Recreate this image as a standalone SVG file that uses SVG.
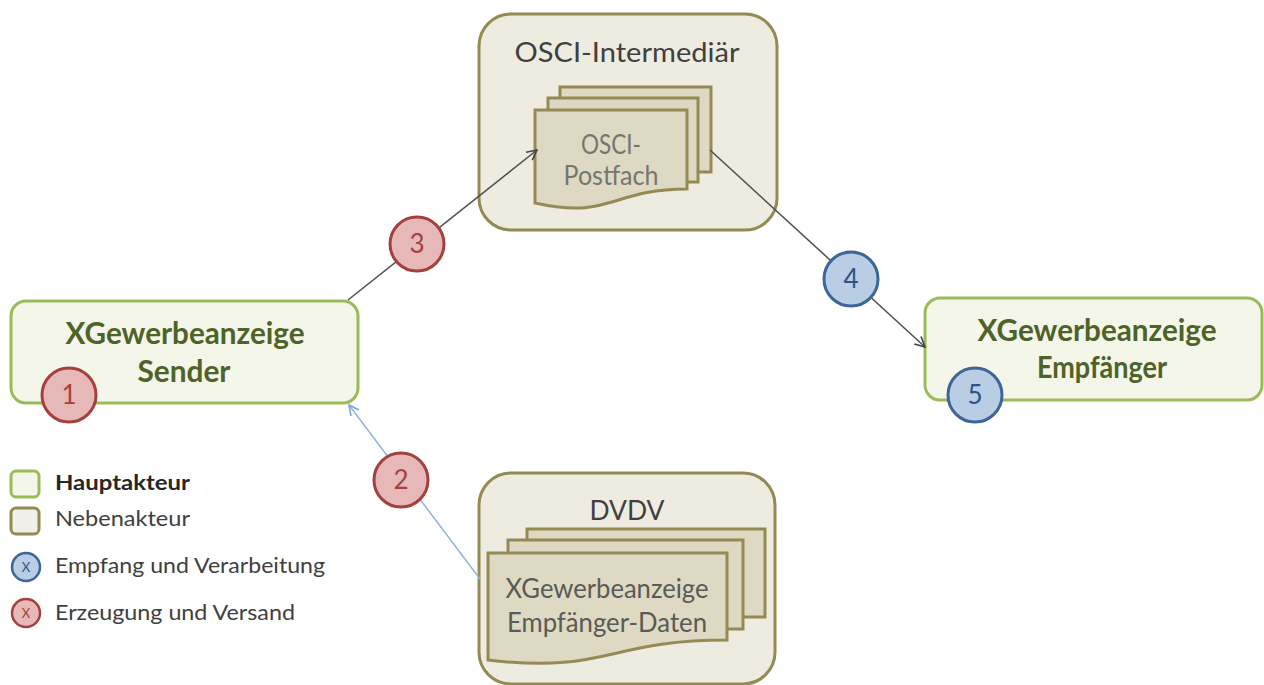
<svg xmlns="http://www.w3.org/2000/svg" width="1264" height="685" viewBox="0 0 1264 685">
  <defs>
    <style>
      text { font-family: Lato, "Open Sans", "Liberation Sans", sans-serif; }
      .main-box { fill: #F3F6E9; stroke: #9BBB59; stroke-width: 3; }
      .side-box { fill: #EEECE1; stroke: #948A54; stroke-width: 3; }
      .page { fill: #DDD9C3; stroke: #948A54; stroke-width: 3; }
      .main-label { font-size: 30px; font-weight: bold; fill: #4F6228; text-anchor: middle; }
      .side-title { font-size: 26px; fill: #404040; text-anchor: middle; }
      .page-label { font-size: 26px; fill: #6E6E6E; text-anchor: middle; }
      .step-red { fill: #E6B9B8; stroke: #A5403E; stroke-width: 3; }
      .step-blue { fill: #B9CDE5; stroke: #3D6597; stroke-width: 3; }
      .num-red { font-size: 26px; fill: #A5403E; text-anchor: middle; }
      .num-blue { font-size: 26px; fill: #2E5487; text-anchor: middle; }
      .legend-text { font-size: 21px; fill: #404040; }
      .flow { fill: none; stroke: #4F4F4F; stroke-width: 1.5; }
      .flow-blue { fill: none; stroke: #8EB4E3; stroke-width: 1.5; }
    </style>
    <marker id="arrow-dark" viewBox="0 0 12 12" refX="11" refY="6" markerWidth="12" markerHeight="12" markerUnits="userSpaceOnUse" orient="auto">
      <path d="M1,1 L11,6 L1,11" fill="none" stroke="#444444" stroke-width="1.6"/>
    </marker>
    <marker id="arrow-blue" viewBox="0 0 12 12" refX="11" refY="6" markerWidth="12" markerHeight="12" markerUnits="userSpaceOnUse" orient="auto">
      <path d="M1,1 L11,6 L1,11" fill="none" stroke="#7FA6D8" stroke-width="1.6"/>
    </marker>
  </defs>

  <rect width="1264" height="685" fill="#FFFFFF"/>

  <!-- OSCI intermediary with stacked mailbox pages -->
  <g id="osci-intermediaer">
    <rect class="side-box" x="479" y="14" width="298" height="216" rx="32"/>
    <text class="side-title" x="627" y="62" textLength="225" lengthAdjust="spacingAndGlyphs">OSCI-Intermediär</text>
    <rect class="page" x="560" y="87" width="151" height="85"/>
    <rect class="page" x="548" y="98" width="150" height="84"/>
    <path class="page" d="M535,110 H687 V189 C611,189 611,220 535,203 Z"/>
    <text class="page-label" x="611" y="154" textLength="60" lengthAdjust="spacingAndGlyphs" style="fill:#767670">OSCI-</text>
    <text class="page-label" x="611" y="185" textLength="95" lengthAdjust="spacingAndGlyphs" style="fill:#767670">Postfach</text>
  </g>

  <!-- DVDV directory with stacked recipient data pages -->
  <g id="dvdv">
    <rect class="side-box" x="479" y="473" width="296" height="211" rx="32"/>
    <text class="side-title" x="627" y="520" textLength="75" lengthAdjust="spacingAndGlyphs">DVDV</text>
    <rect class="page" x="527" y="529" width="238" height="88"/>
    <rect class="page" x="508" y="540" width="235" height="89"/>
    <path class="page" d="M488,553 H727 V640 C607,640 607,674 488,660 Z"/>
    <text class="page-label" x="607" y="598" textLength="203" lengthAdjust="spacingAndGlyphs" style="fill:#5A5A56">XGewerbeanzeige</text>
    <text class="page-label" x="607" y="632" textLength="200" lengthAdjust="spacingAndGlyphs" style="fill:#5A5A56">Empfänger-Daten</text>
  </g>

  <!-- Sender -->
  <g id="sender">
    <rect class="main-box" x="11" y="301" width="347" height="102" rx="15"/>
    <text class="main-label" x="185" y="344" textLength="239" lengthAdjust="spacingAndGlyphs">XGewerbeanzeige</text>
    <text class="main-label" x="184" y="382" textLength="93" lengthAdjust="spacingAndGlyphs">Sender</text>
  </g>

  <!-- Receiver -->
  <g id="empfaenger">
    <rect class="main-box" x="925" y="298" width="337" height="102" rx="15"/>
    <text class="main-label" x="1097" y="341" textLength="239" lengthAdjust="spacingAndGlyphs">XGewerbeanzeige</text>
    <text class="main-label" x="1102" y="378" textLength="130" lengthAdjust="spacingAndGlyphs">Empfänger</text>
  </g>

  <!-- Connectors -->
  <g id="connectors">
    <line class="flow" x1="348" y1="300" x2="537" y2="150" marker-end="url(#arrow-dark)"/>
    <line class="flow" x1="710" y1="150" x2="925" y2="347" marker-end="url(#arrow-dark)"/>
    <line class="flow-blue" x1="480" y1="579" x2="349" y2="405" marker-end="url(#arrow-blue)"/>
  </g>

  <!-- Step markers -->
  <g id="step-1">
    <circle class="step-red" cx="69" cy="395" r="27"/>
    <text class="num-red" x="69" y="404">1</text>
  </g>
  <g id="step-2">
    <circle class="step-red" cx="401" cy="480" r="27"/>
    <text class="num-red" x="401" y="489">2</text>
  </g>
  <g id="step-3">
    <circle class="step-red" cx="417" cy="244" r="27"/>
    <text class="num-red" x="417" y="253">3</text>
  </g>
  <g id="step-4">
    <circle class="step-blue" cx="851" cy="279" r="27"/>
    <text class="num-blue" x="851" y="288">4</text>
  </g>
  <g id="step-5">
    <circle class="step-blue" cx="975" cy="395" r="27"/>
    <text class="num-blue" x="975" y="404">5</text>
  </g>

  <!-- Legend -->
  <g id="legend">
    <rect class="main-box" x="11" y="471" width="28" height="26" rx="5"/>
    <text class="legend-text" x="55" y="490" textLength="135" lengthAdjust="spacingAndGlyphs" style="font-weight:bold;fill:#262626">Hauptakteur</text>
    <rect class="side-box" x="11" y="508" width="28" height="26" rx="5" style="fill:#F0EFE8"/>
    <text class="legend-text" x="55" y="526" textLength="135" lengthAdjust="spacingAndGlyphs">Nebenakteur</text>
    <circle class="step-blue" cx="26" cy="567" r="14" style="stroke-width:2.5"/>
    <text x="26" y="572" style="font-size:13px;fill:#2E5487;text-anchor:middle">X</text>
    <text class="legend-text" x="55" y="573" textLength="270" lengthAdjust="spacingAndGlyphs">Empfang und Verarbeitung</text>
    <circle class="step-red" cx="26" cy="613" r="14" style="stroke-width:2.5"/>
    <text x="26" y="618" style="font-size:13px;fill:#A5403E;text-anchor:middle">X</text>
    <text class="legend-text" x="55" y="620" textLength="240" lengthAdjust="spacingAndGlyphs">Erzeugung und Versand</text>
  </g>
</svg>
